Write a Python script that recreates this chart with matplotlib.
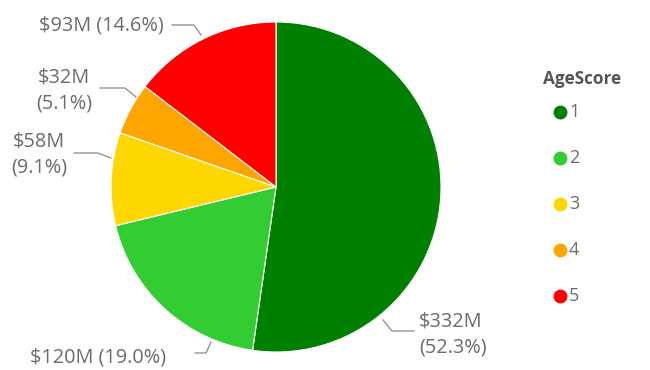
import matplotlib
matplotlib.use("Agg")
import matplotlib.pyplot as plt
from matplotlib.lines import Line2D

plt.rcParams['font.family'] = ['Open Sans', 'DejaVu Sans']

# AgeScore categories and their value (in $M)
categories = ["1", "2", "3", "4", "5"]
values = [331.8, 120.4, 57.7, 32.3, 92.6]
colors = ["#008000", "#33CC33", "#FFD700", "#FFA500", "#FF0000"]

W, H = 650, 370
fig = plt.figure(figsize=(W / 100, H / 100), dpi=100)
ax = fig.add_axes([0, 0, 1, 1])

cx, cy, r = 276, 187, 165
# y axis is inverted, so counterclock=True draws clockwise on screen;
# start at 12 o'clock (which is -90 deg in flipped coords)
ax.set_ylim(H, 0)
wedges, _ = ax.pie(values, colors=colors, startangle=-90, counterclock=True,
                   center=(cx, cy), radius=r, frame=True,
                   wedgeprops=dict(edgecolor="white", linewidth=0.8))
ax.set_xlim(0, W)
ax.set_ylim(H, 0)
ax.set_aspect("equal")
ax.axis("off")

total = sum(values)
labels = [f"${v:.0f}M ({v / total * 100:.1f}%)" for v in values]

txt_color = "#6b6b6b"
line_color = "#8a8a8a"
fs = 14.3

# label layout per slice: text position, alignment, split into two lines, leader path
layout = {
    0: dict(xy=(419, 335), ha="left", two=True,
            path=[(383, 320), (392, 331), (414, 331)]),
    1: dict(xy=(98, 357), ha="center", two=False,
            path=[(211, 342), (206, 353), (195, 353)]),
    2: dict(xy=(39, 155), ha="center", two=True,
            path=[(111, 158), (98, 153), (74, 153)]),
    3: dict(xy=(64, 91), ha="center", two=True,
            path=[(136, 97), (125, 88), (100, 88)]),
    4: dict(xy=(101, 25), ha="center", two=False,
            path=[(201, 35), (194, 25), (172, 25)]),
}

for i, lab in enumerate(labels):
    L = layout[i]
    text = lab.replace(" ", "\n") if L["two"] else lab
    ax.text(L["xy"][0], L["xy"][1], text, ha=L["ha"], va="center",
            fontsize=fs, color=txt_color, linespacing=1.4)
    xs, ys = zip(*L["path"])
    ax.add_line(Line2D(xs, ys, color=line_color, lw=0.9))

# legend
ax.text(543, 79, "AgeScore", fontsize=12.3, fontweight="bold",
        color="#555555", ha="left", va="center")
for k, (cat, col) in enumerate(zip(categories, colors)):
    y = 112 + 46 * k
    ax.plot([560], [y], marker="o", markersize=9, color=col,
            markeredgecolor=col, linestyle="none")
    ax.text(569, y, cat, fontsize=13, color=txt_color,
            ha="left", va="center")

fig.savefig("out.png", dpi=100, facecolor="white")
